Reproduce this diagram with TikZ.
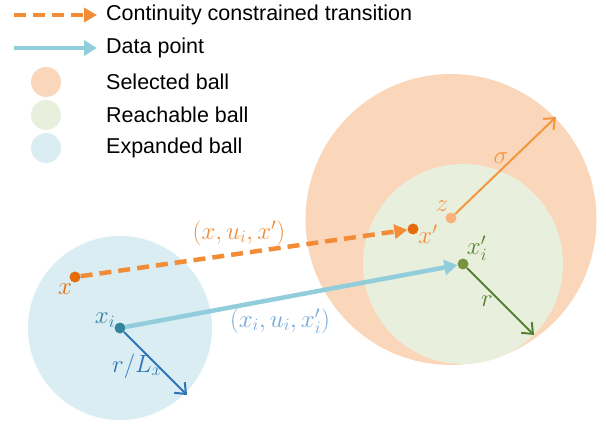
\documentclass[tikz,border=0pt]{standalone}
\usepackage{fontspec}
\setmainfont{Liberation Sans}
\usetikzlibrary{arrows.meta}
\definecolor{selball}{HTML}{FAD7BA}
\definecolor{reachball}{HTML}{E9EFDD}
\definecolor{expball}{HTML}{DAEDF3}
\definecolor{dashor}{HTML}{F28C36}
\definecolor{xdot}{HTML}{E46C0A}
\definecolor{zdot}{HTML}{F9B27D}
\definecolor{datablue}{HTML}{92CDDC}
\definecolor{xidot}{HTML}{31859C}
\definecolor{rlblue}{HTML}{2E75B6}
\definecolor{xipdot}{HTML}{77933C}
\definecolor{rgreen}{HTML}{548235}
\definecolor{sigor}{HTML}{F59540}
\definecolor{lblblue}{HTML}{6FA8DC}
\tikzset{
  legtext/.style={anchor=west, font=\fontsize{21.5}{24}\selectfont, text=black, inner sep=0pt},
  mlabel/.style={font=\fontsize{23}{26}\selectfont, inner sep=0pt},
  pdot/.style={circle, inner sep=0pt, minimum size=11pt},
  dasharrow/.style={draw=dashor, line width=4.5pt, dash pattern=on 12pt off 7pt, -{Triangle[length=13pt,width=14pt]}},
  dataarrow/.style={draw=datablue, line width=4.5pt, -{Triangle[length=13pt,width=15pt]}},
  radarrow/.style={line width=2pt, -{Straight Barb[length=9pt,width=15pt]}},
}
\begin{document}
\begin{tikzpicture}[x=1pt,y=-1pt]
\useasboundingbox (0,0) rectangle (606,425);
% balls
\fill[selball] (451,219.5) circle (145.5);
\fill[reachball] (463,264) circle (100);
\fill[expball] (120,328) circle (92);
% legend
\coordinate (l1s) at (14,15); \coordinate (l1e) at (97,15);
\coordinate (l2s) at (14,48); \coordinate (l2e) at (97,48);
\draw[dasharrow] (l1s) -- (l1e);
\draw[dataarrow] (l2s) -- (l2e);
\node[legtext] (t1) at (106,15) {Continuity constrained transition};
\node[legtext] (t2) at (106,48) {Data point};
\node[circle, fill=selball, minimum size=30pt, inner sep=0pt] (c1) at (46,82) {};
\node[circle, fill=reachball, minimum size=30pt, inner sep=0pt] (c2) at (46,115) {};
\node[circle, fill=expball, minimum size=30pt, inner sep=0pt] (c3) at (46,148) {};
\node[legtext] (t3) at (106,82) {Selected ball};
\node[legtext] (t4) at (106,115) {Reachable ball};
\node[legtext] (t5) at (106,148) {Expanded ball};
% points
\node[pdot, fill=xdot] (x) at (75,277) {};
\node[pdot, fill=xdot] (xp) at (413,229) {};
\node[pdot, fill=zdot] (z) at (451,218) {};
\node[pdot, fill=xidot] (xi) at (120,328) {};
\node[pdot, fill=xipdot] (xip) at (463,264) {};
\coordinate (sigend) at (556,117);
\coordinate (rend) at (534,335);
\coordinate (rlend) at (187,395);
% connectors
\draw[dasharrow] (x) -- (xp);
\draw[dataarrow] (xi) -- (xip);
\draw[radarrow, draw=sigor] (z) -- (sigend);
\draw[radarrow, draw=rgreen] (xip) -- (rend);
\draw[radarrow, draw=rlblue] (xi) -- (rlend);
% labels
\node[mlabel, text=dashor] (lt1) at (239,233) {$(x,u_i,x')$};
\node[mlabel, text=lblblue] (lt2) at (280,321) {$(x_i,u_i,x_i')$};
\node[mlabel, text=xdot] (lx) at (65,289) {$x$};
\node[mlabel, text=dashor] (lxp) at (428,234) {$x'$};
\node[mlabel, text=sigor] (lz) at (442,206) {$z$};
\node[mlabel, text=sigor] (lsig) at (501,158) {$\sigma$};
\node[mlabel, text=rgreen] (lxip) at (477,248) {$x_i'$};
\node[mlabel, text=rgreen] (lr) at (487,301) {$r$};
\node[mlabel, text=xidot!60!rlblue] (lxi) at (105,320) {$x_i$};
\node[mlabel, text=rlblue] (lrl) at (137,366) {$r/L_x$};
\end{tikzpicture}
\end{document}
